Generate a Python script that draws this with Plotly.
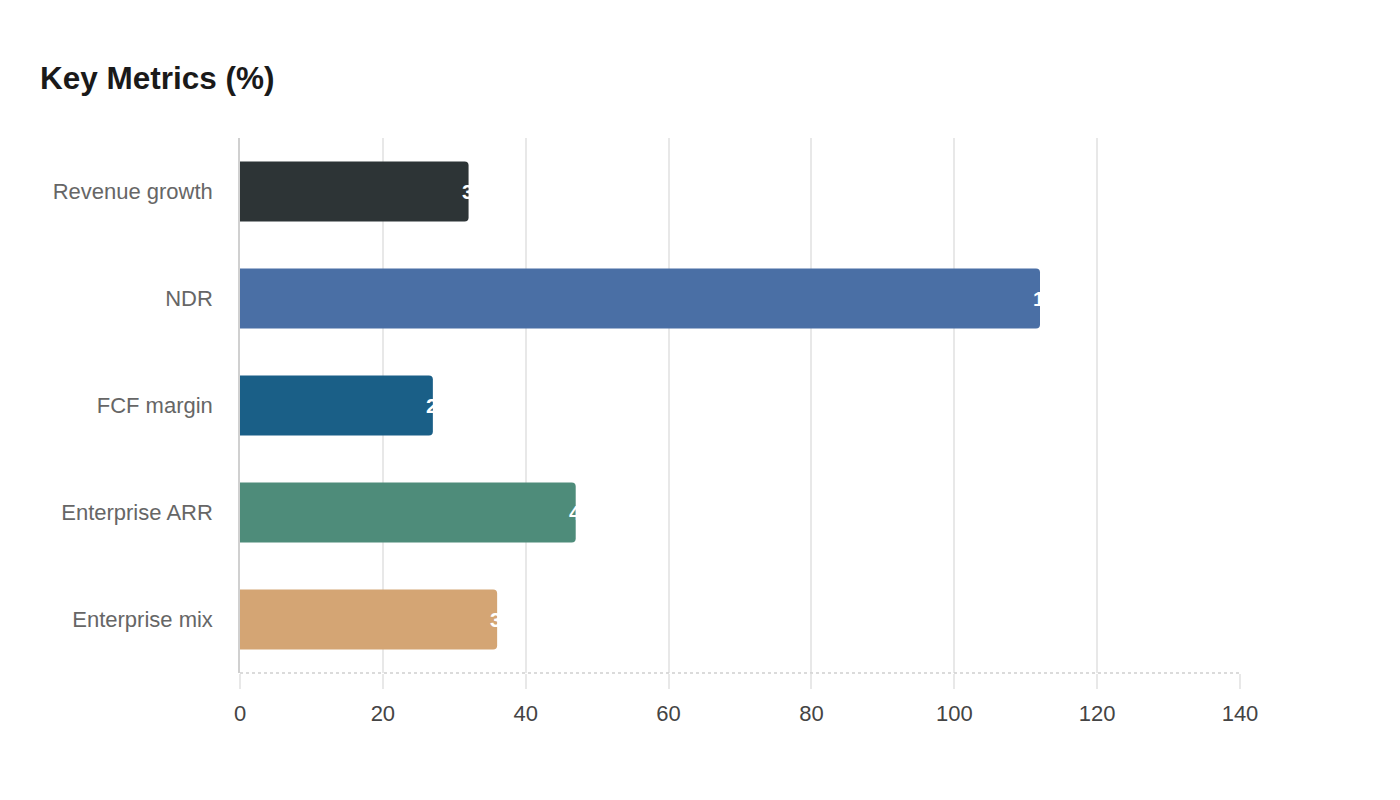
import plotly.graph_objects as go

# key metrics, percent
metrics = ['Revenue growth', 'NDR', 'FCF margin', 'Enterprise ARR', 'Enterprise mix']
values = [32, 112, 27, 47, 36]
colors = ['#2d3436', '#4a6fa5', '#1a5f87', '#4e8c7a', '#d4a574']
x_ticks = [0, 20, 40, 60, 80, 100, 120, 140]

FONT = 'Liberation Sans, Arial, sans-serif'

fig = go.Figure()
fig.add_trace(go.Bar(
    x=values, y=metrics, orientation='h',
    marker=dict(color=colors, line=dict(width=0)),
    hoverinfo='x+y', showlegend=False,
))

# white value labels starting just before the bar end (only the part over the bar shows)
labels = []
for m, v in zip(metrics, values):
    labels.append(dict(
        x=v, y=m, xref='x', yref='y', text='<b>%d</b>' % v, showarrow=False,
        xanchor='left', yanchor='middle', xshift=-9,
        font=dict(color='white', size=21, family=FONT),
    ))

fig.update_layout(
    width=1400, height=800,
    paper_bgcolor='white', plot_bgcolor='white',
    margin=dict(l=232, r=168, t=130, b=135),
    font=dict(family=FONT),
    title=dict(text='<b>Key Metrics (%)</b>', x=32 / 1400, xanchor='left', y=1 - 70 / 800, yanchor='middle',
               font=dict(size=31.5, color='#1a1a1a')),
    bargap=0.44,
    barcornerradius=4,
    annotations=labels,
    shapes=[dict(type='line', xref='paper', yref='paper', x0=0, x1=1, y0=0, y1=0,
                 line=dict(color='#d0d0d0', width=1.5, dash='dot'))],
)
fig.update_xaxes(
    range=[0, 140], tickvals=x_ticks, showgrid=True, gridcolor='#e8e8e8', gridwidth=1.5,
    zeroline=False, ticks='outside', ticklen=15, tickcolor='#e8e8e8', tickwidth=1.5,
    ticklabelstandoff=6, tickfont=dict(size=22, color='#444444'),
)
fig.update_yaxes(
    categoryorder='array', categoryarray=metrics[::-1],
    showline=True, linecolor='#d0d0d0', linewidth=1.5, showgrid=False,
    ticks='', ticklabelstandoff=21, tickfont=dict(size=22, color='#666666'),
)

fig.write_html('out.html')
